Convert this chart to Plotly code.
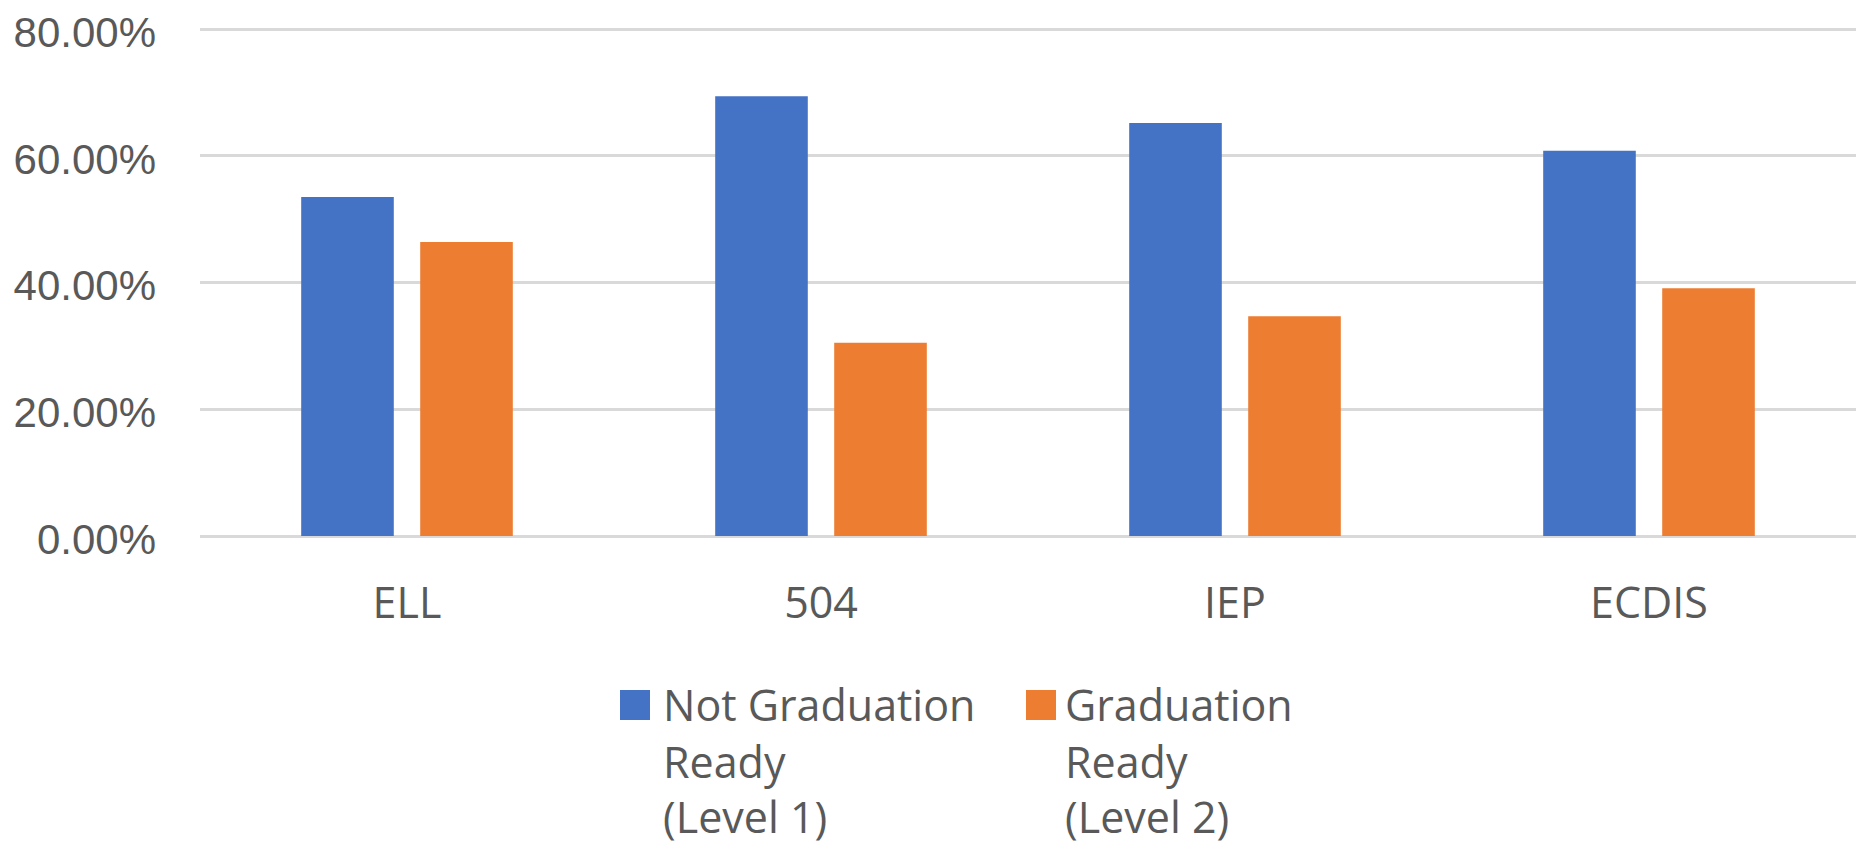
import plotly.graph_objects as go

categories = ["ELL", "504", "IEP", "ECDIS"]
not_ready = [0.535, 0.694, 0.652, 0.608]
ready = [0.464, 0.305, 0.347, 0.391]
series_names = ["Not Graduation Ready (Level 1)", "Graduation Ready (Level 2)"]
legend_lines = [["Not Graduation", "Ready", "(Level 1)"], ["Graduation", "Ready", "(Level 2)"]]
series_colors = ["#4472C4", "#ED7D31"]
y_ticks = [0, 0.2, 0.4, 0.6, 0.8]

# page body has an 8px default margin; figure origin sits at page (8, 8)
OFF = 8
W, H = 1862, 841
L, R, T, B = 192, 14, 18, 313
PW, PH = W - L - R, H - T - B
FONT = "Open Sans"
GREY = "#595959"

def px_x(x):
    return (x - OFF - L) / PW

def px_y(y):
    return (H - B - (y - OFF)) / PH

fig = go.Figure()
for vals, name, col in zip([not_ready, ready], series_names, series_colors):
    fig.add_trace(go.Bar(x=categories, y=vals, name=name, marker_color=col,
                         marker_line_width=0, showlegend=False))

# manual legend (large squares like the source)
leg_sq_x = [620, 1026]
leg_txt_x = [661, 1063]
line_y = [704, 761, 816]
for i, col in enumerate(series_colors):
    fig.add_shape(type="rect", xref="paper", yref="paper",
                  x0=px_x(leg_sq_x[i]), x1=px_x(leg_sq_x[i] + 30),
                  y0=px_y(690), y1=px_y(720),
                  fillcolor=col, line_width=0)
    for j, txt in enumerate(legend_lines[i]):
        fig.add_annotation(xref="paper", yref="paper", x=px_x(leg_txt_x[i]), y=px_y(line_y[j]),
                           xanchor="left", yanchor="middle", align="left", showarrow=False,
                           text=txt, font=dict(family=FONT, size=43, color=GREY))

fig.update_layout(
    width=W, height=H,
    margin=dict(l=L, r=R, t=T, b=B, pad=0),
    plot_bgcolor="white", paper_bgcolor="white",
    barmode="group", bargap=0.425, bargroupgap=0.222,
    font=dict(family=FONT, size=42, color=GREY),
    showlegend=False,
)
fig.update_xaxes(showgrid=False, showline=False, ticks="", ticklabelstandoff=38,
                 automargin=False,
                 tickfont=dict(family=FONT, size=43, color=GREY))
fig.update_yaxes(range=[0, 0.805], tickvals=y_ticks, tickformat=".2%",
                 showgrid=True, gridcolor="#D9D9D9", gridwidth=2.5,
                 zeroline=True, zerolinecolor="#D9D9D9", zerolinewidth=2.5,
                 showline=False, ticks="", ticklabelstandoff=43, automargin=False,
                 ticklabeloverflow="allow", ticklabelshift=3,
                 tickfont=dict(family="Liberation Sans", size=42, color=GREY))

fig.write_html("out.html")
